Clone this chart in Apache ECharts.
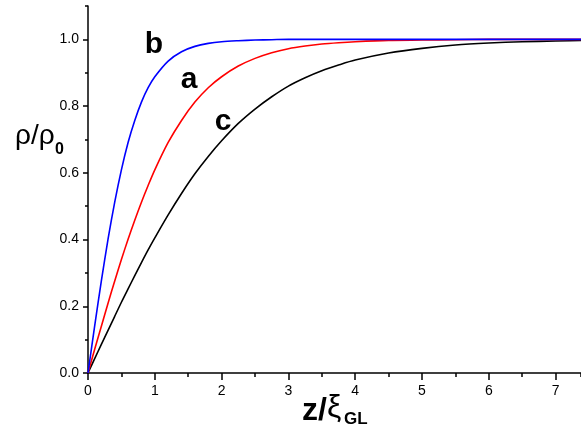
<!DOCTYPE html>
<html>
<head>
<meta charset="utf-8">
<script src="https://cdn.jsdelivr.net/npm/echarts@6/dist/echarts.min.js"></script>
<style>
  html, body { margin: 0; padding: 0; background: #fff; }
  #chart { width: 581px; height: 429px; }
</style>
</head>
<body>
<div id="chart"></div>
<script>
// z / xi_GL sample positions
var zVals = [0, 0.1, 0.2, 0.3, 0.4, 0.5, 0.6, 0.7, 0.8, 0.9, 1.0, 1.2, 1.4, 1.6, 1.8, 2.0,
  2.25, 2.5, 2.75, 3.0, 3.25, 3.5, 3.75, 4.0, 4.5, 5.0, 5.5, 6.0, 6.5, 7.0, 7.5];
// rho / rho0
var curveB = [0, 0.141, 0.276, 0.401, 0.512, 0.609, 0.691, 0.757, 0.812, 0.855, 0.888, 0.935, 0.963, 0.979, 0.988, 0.993,
  0.996, 0.998, 0.999, 1.0, 1.0, 1.0, 1.0, 1.0, 1.0, 1.0, 1.0, 1.0, 1.0, 1.0, 1.0];
var curveA = [0, 0.071, 0.140, 0.209, 0.276, 0.340, 0.401, 0.458, 0.512, 0.562, 0.609, 0.691, 0.757, 0.812, 0.855, 0.888,
  0.920, 0.943, 0.960, 0.972, 0.980, 0.986, 0.990, 0.993, 0.997, 0.998, 0.999, 1.0, 1.0, 1.0, 1.0];
var curveC = [0, 0.043, 0.086, 0.128, 0.170, 0.212, 0.252, 0.292, 0.331, 0.369, 0.405, 0.474, 0.538, 0.597, 0.649, 0.696,
  0.748, 0.791, 0.828, 0.860, 0.885, 0.906, 0.923, 0.938, 0.959, 0.973, 0.983, 0.989, 0.993, 0.995, 0.997];

var xMax = 7.38;
var yMax = 1.1;
var font = 'Liberation Sans, Arial, sans-serif';

function pairs(ys) {
  return zVals.map(function (z, i) { return [z, ys[i]]; });
}

var myChart = echarts.init(document.getElementById('chart'));

var axisLine = { show: true, lineStyle: { color: '#000', width: 1.5 } };

myChart.setOption({
  animation: false,
  grid: { left: 88, right: 0, top: 6, bottom: 56 },
  xAxis: [{
    // major ticks + labels
    type: 'value', min: 0, max: xMax, interval: 1, position: 'bottom',
    axisLine: axisLine,
    axisTick: { show: true, length: 7, inside: false, lineStyle: { color: '#000', width: 1.5 } },
    axisLabel: {
      color: '#000', fontSize: 14, fontFamily: font, margin: 11, showMaxLabel: false,
      formatter: function (v) { return Math.abs(v - Math.round(v)) < 1e-6 ? String(Math.round(v)) : ''; }
    },
    splitLine: { show: false }
  }, {
    // minor ticks
    type: 'value', min: 0, max: xMax, interval: 0.5, position: 'bottom',
    axisLine: { show: false },
    axisTick: { show: true, length: 4, lineStyle: { color: '#000', width: 1.5 } },
    axisLabel: { show: false },
    splitLine: { show: false }
  }],
  yAxis: [{
    type: 'value', min: 0, max: yMax, interval: 0.2, position: 'left',
    axisLine: axisLine,
    axisTick: { show: true, length: 5, lineStyle: { color: '#000', width: 1.5 } },
    axisLabel: {
      color: '#000', fontSize: 14, fontFamily: font, margin: 9, showMaxLabel: false,
      formatter: function (v) { return v > 1.05 ? '' : v.toFixed(1); }
    },
    splitLine: { show: false }
  }, {
    type: 'value', min: 0, max: yMax, interval: 0.1, position: 'left',
    axisLine: { show: false },
    axisTick: { show: true, length: 3, lineStyle: { color: '#000', width: 1.5 } },
    axisLabel: { show: false },
    splitLine: { show: false }
  }],
  series: [
    { name: 'c', type: 'line', data: pairs(curveC), showSymbol: false, smooth: 0.3,
      lineStyle: { color: '#000000', width: 1.6 }, z: 3 },
    { name: 'a', type: 'line', data: pairs(curveA), showSymbol: false, smooth: 0.3,
      lineStyle: { color: '#ff0000', width: 1.6 }, z: 4 },
    { name: 'b', type: 'line', data: pairs(curveB), showSymbol: false, smooth: 0.3,
      lineStyle: { color: '#0000ff', width: 1.6 }, z: 5 }
  ],
  graphic: [
    // curve labels
    { type: 'text', x: 154, y: 45, style: { text: 'b', fill: '#000', font: 'bold 30px ' + font, textAlign: 'center', textVerticalAlign: 'middle' } },
    { type: 'text', x: 189, y: 80, style: { text: 'a', fill: '#000', font: 'bold 30px ' + font, textAlign: 'center', textVerticalAlign: 'middle' } },
    { type: 'text', x: 223, y: 122, style: { text: 'c', fill: '#000', font: 'bold 30px ' + font, textAlign: 'center', textVerticalAlign: 'middle' } },
    // y axis title
    { type: 'text', x: 15, y: 136, style: { text: 'ρ/ρ', fill: '#000', font: '28px ' + font, textAlign: 'left', textVerticalAlign: 'middle' } },
    { type: 'text', x: 55, y: 150, style: { text: '0', fill: '#000', font: 'bold 16px ' + font, textAlign: 'left', textVerticalAlign: 'middle' } },
    // x axis title
    { type: 'text', x: 302, y: 411, style: { text: 'z/', fill: '#000', font: 'bold 32px ' + font, textAlign: 'left', textVerticalAlign: 'middle' } },
    { type: 'text', x: 327, y: 408, style: { text: 'ξ', fill: '#000', font: '32px ' + font, textAlign: 'left', textVerticalAlign: 'middle' } },
    { type: 'text', x: 344, y: 419, style: { text: 'GL', fill: '#000', font: 'bold 17px ' + font, textAlign: 'left', textVerticalAlign: 'middle' } }
  ]
});
</script>
</body>
</html>
